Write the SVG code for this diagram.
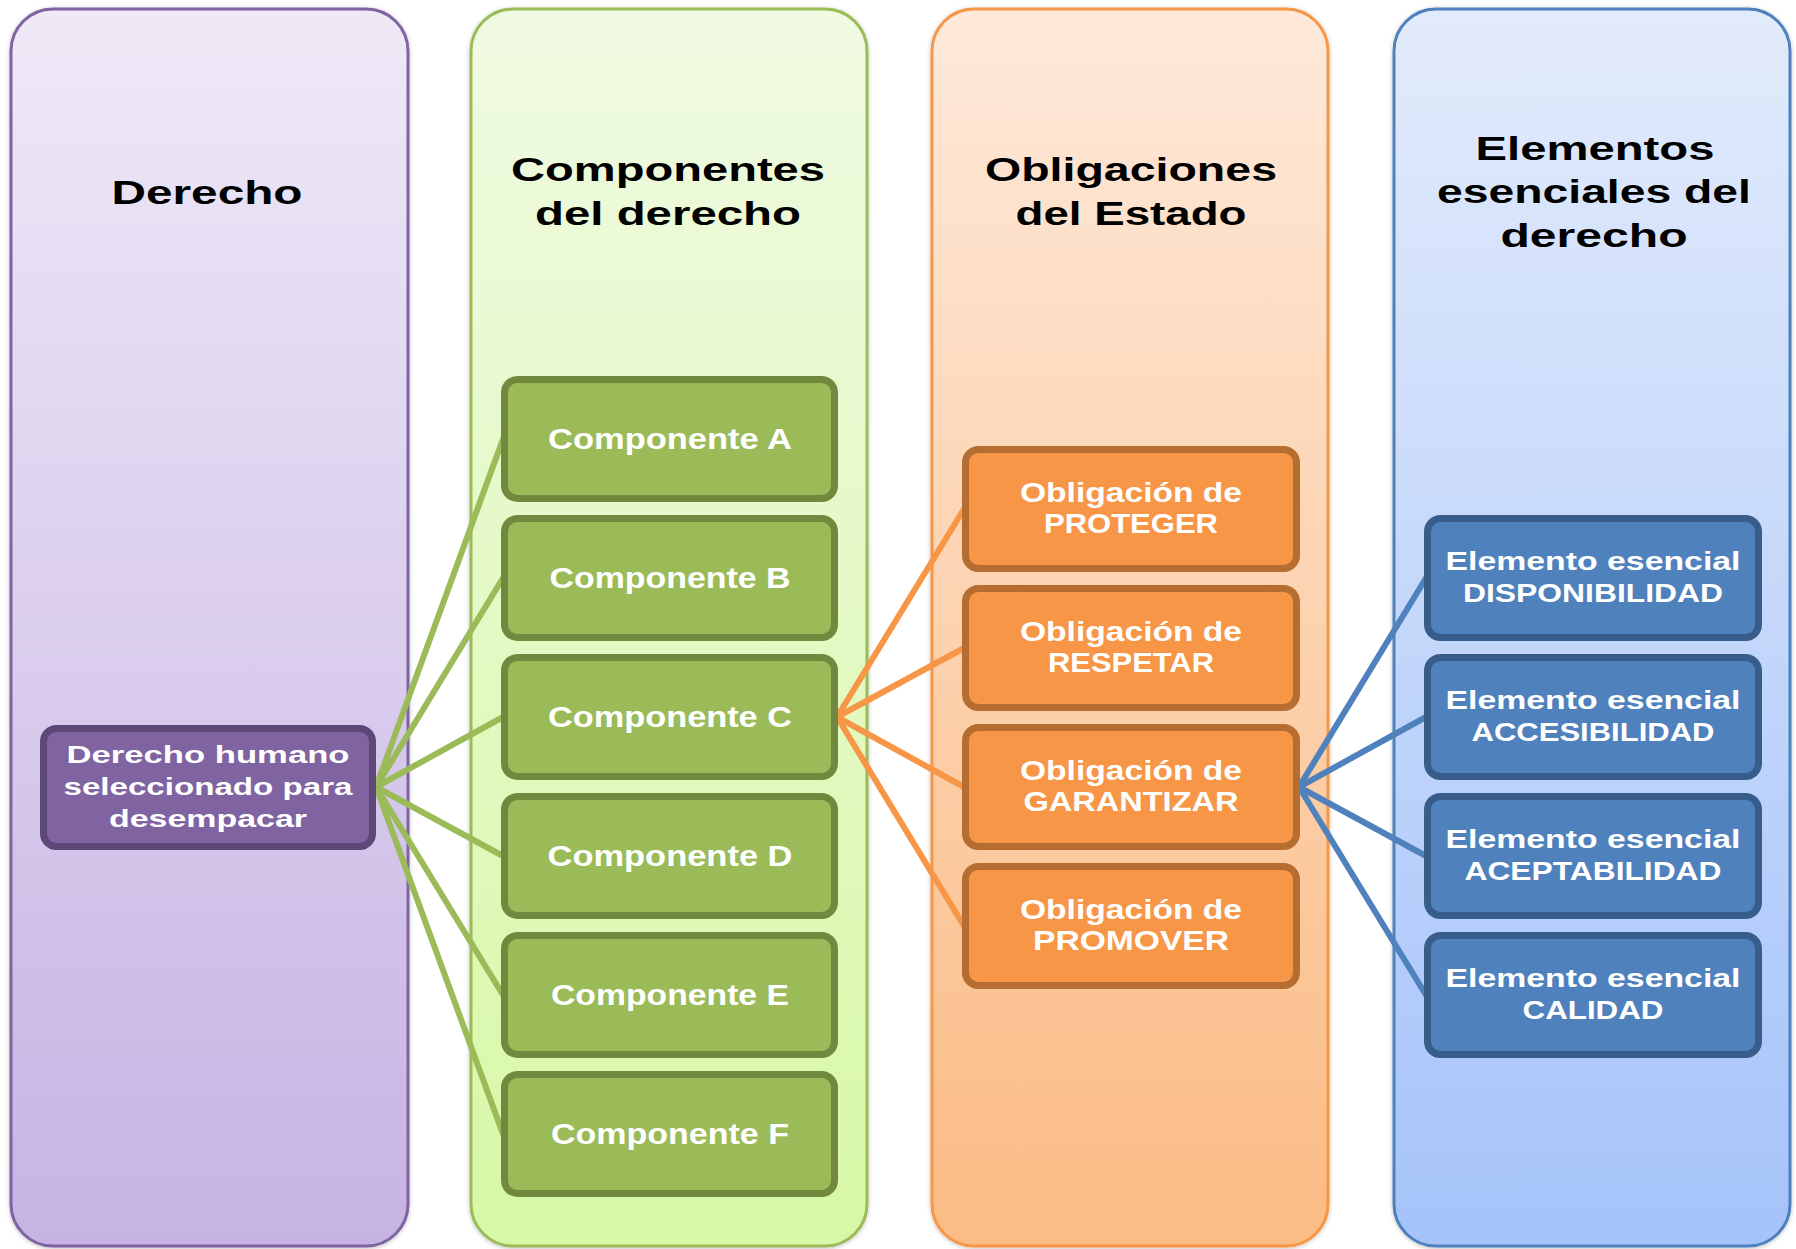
<svg xmlns="http://www.w3.org/2000/svg" width="1796" height="1249" viewBox="0 0 1796 1249">
<defs>
<linearGradient id="gP" x1="0" y1="0" x2="0" y2="1"><stop offset="0" stop-color="#EFE9F7"/><stop offset="1" stop-color="#C6B3E3"/></linearGradient>
<linearGradient id="gG" x1="0" y1="0" x2="0" y2="1"><stop offset="0" stop-color="#F0FAE2"/><stop offset="1" stop-color="#D7F8A6"/></linearGradient>
<linearGradient id="gO" x1="0" y1="0" x2="0" y2="1"><stop offset="0" stop-color="#FEE9DA"/><stop offset="1" stop-color="#FBBB84"/></linearGradient>
<linearGradient id="gB" x1="0" y1="0" x2="0" y2="1"><stop offset="0" stop-color="#E2EBFB"/><stop offset="1" stop-color="#A5C3FA"/></linearGradient>
<filter id="sh" x="-5%" y="-5%" width="110%" height="110%"><feDropShadow dx="0" dy="1" stdDeviation="2" flood-color="#000" flood-opacity="0.25"/></filter>
</defs>
<style>
.col{stroke-width:3;filter:url(#sh)}
.hd{font-family:"Liberation Sans",Arial,sans-serif;font-weight:bold;font-size:33px;fill:#000;text-anchor:middle}
.nt{font-family:"Liberation Sans",Arial,sans-serif;font-weight:bold;fill:#fff;text-anchor:middle}
.box{stroke-width:7}
.gbox{fill:#9BBB59;stroke:#71893F}
.obox{fill:#F79646;stroke:#B66D31}
.bbox{fill:#4F81BD;stroke:#385D8A}
.pbox{fill:#8064A2;stroke:#5C4776}
.ln{stroke-width:6;fill:none;stroke-linecap:round}
</style>
<rect width="1796" height="1249" fill="#fff"/>
<g id="columns">
<g id="col-derecho"><rect class="col" x="11" y="9" width="397" height="1237" rx="42" fill="url(#gP)" stroke="#8064A2"/>
<text class="hd" x="207" y="204" textLength="191" lengthAdjust="spacingAndGlyphs">Derecho</text></g>
<g id="col-componentes"><rect class="col" x="471" y="9" width="396" height="1237" rx="42" fill="url(#gG)" stroke="#9BBB59"/>
<text class="hd" x="668" y="181" textLength="314" lengthAdjust="spacingAndGlyphs">Componentes</text>
<text class="hd" x="668" y="225" textLength="266" lengthAdjust="spacingAndGlyphs">del derecho</text></g>
<g id="col-obligaciones"><rect class="col" x="932" y="9" width="396" height="1237" rx="42" fill="url(#gO)" stroke="#F79646"/>
<text class="hd" x="1131" y="181" textLength="292" lengthAdjust="spacingAndGlyphs">Obligaciones</text>
<text class="hd" x="1131" y="225" textLength="231" lengthAdjust="spacingAndGlyphs">del Estado</text></g>
<g id="col-elementos"><rect class="col" x="1394" y="9" width="396" height="1237" rx="42" fill="url(#gB)" stroke="#4F81BD"/>
<text class="hd" x="1595" y="160" textLength="239" lengthAdjust="spacingAndGlyphs">Elementos</text>
<text class="hd" x="1594" y="203" textLength="314" lengthAdjust="spacingAndGlyphs">esenciales del</text>
<text class="hd" x="1594" y="247" textLength="187" lengthAdjust="spacingAndGlyphs">derecho</text></g>
</g>
<g id="connectors">
<g stroke="#9BBB59" class="ln">
<line class="ln" x1="376" y1="787" x2="503" y2="439"/>
<line class="ln" x1="376" y1="787" x2="503" y2="578"/>
<line class="ln" x1="376" y1="787" x2="503" y2="717"/>
<line class="ln" x1="376" y1="787" x2="503" y2="856"/>
<line class="ln" x1="376" y1="787" x2="503" y2="995"/>
<line class="ln" x1="376" y1="787" x2="503" y2="1134"/>
</g>
<g stroke="#F79646">
<line class="ln" x1="837" y1="717" x2="964" y2="509"/>
<line class="ln" x1="837" y1="717" x2="964" y2="648"/>
<line class="ln" x1="837" y1="717" x2="964" y2="787"/>
<line class="ln" x1="837" y1="717" x2="964" y2="926"/>
</g>
<g stroke="#4F81BD">
<line class="ln" x1="1299" y1="787" x2="1426" y2="578"/>
<line class="ln" x1="1299" y1="787" x2="1426" y2="717"/>
<line class="ln" x1="1299" y1="787" x2="1426" y2="856"/>
<line class="ln" x1="1299" y1="787" x2="1426" y2="995"/>
</g>
</g>
<g id="n-derecho-humano"><rect class="box pbox" x="43.5" y="728.5" width="329" height="118" rx="13"/>
<text class="nt" font-size="24" x="208" y="763" textLength="283" lengthAdjust="spacingAndGlyphs">Derecho humano</text>
<text class="nt" font-size="24" x="208" y="795" textLength="289" lengthAdjust="spacingAndGlyphs">seleccionado para</text>
<text class="nt" font-size="24" x="208" y="827" textLength="198" lengthAdjust="spacingAndGlyphs">desempacar</text></g>
<g id="n-comp-a"><rect class="box gbox" x="504.5" y="379.5" width="330" height="119" rx="13"/><text class="nt" font-size="29" x="670" y="449" textLength="244" lengthAdjust="spacingAndGlyphs">Componente A</text></g>
<g id="n-comp-b"><rect class="box gbox" x="504.5" y="518.5" width="330" height="119" rx="13"/><text class="nt" font-size="29" x="670" y="588" textLength="241" lengthAdjust="spacingAndGlyphs">Componente B</text></g>
<g id="n-comp-c"><rect class="box gbox" x="504.5" y="657.5" width="330" height="119" rx="13"/><text class="nt" font-size="29" x="670" y="727" textLength="244" lengthAdjust="spacingAndGlyphs">Componente C</text></g>
<g id="n-comp-d"><rect class="box gbox" x="504.5" y="796.5" width="330" height="119" rx="13"/><text class="nt" font-size="29" x="670" y="866" textLength="245" lengthAdjust="spacingAndGlyphs">Componente D</text></g>
<g id="n-comp-e"><rect class="box gbox" x="504.5" y="935.5" width="330" height="119" rx="13"/><text class="nt" font-size="29" x="670" y="1005" textLength="238" lengthAdjust="spacingAndGlyphs">Componente E</text></g>
<g id="n-comp-f"><rect class="box gbox" x="504.5" y="1074.5" width="330" height="119" rx="13"/><text class="nt" font-size="29" x="670" y="1144" textLength="238" lengthAdjust="spacingAndGlyphs">Componente F</text></g>
<g id="n-proteger"><rect class="box obox" x="965.5" y="449.5" width="331" height="119" rx="13"/>
<text class="nt" font-size="28" x="1131" y="502" textLength="222" lengthAdjust="spacingAndGlyphs">Obligación de</text>
<text class="nt" font-size="28" x="1131" y="533" textLength="174" lengthAdjust="spacingAndGlyphs">PROTEGER</text></g>
<g id="n-respetar"><rect class="box obox" x="965.5" y="588.5" width="331" height="119" rx="13"/>
<text class="nt" font-size="28" x="1131" y="641" textLength="222" lengthAdjust="spacingAndGlyphs">Obligación de</text>
<text class="nt" font-size="28" x="1131" y="672" textLength="166" lengthAdjust="spacingAndGlyphs">RESPETAR</text></g>
<g id="n-garantizar"><rect class="box obox" x="965.5" y="727.5" width="331" height="119" rx="13"/>
<text class="nt" font-size="28" x="1131" y="780" textLength="222" lengthAdjust="spacingAndGlyphs">Obligación de</text>
<text class="nt" font-size="28" x="1131" y="811" textLength="215" lengthAdjust="spacingAndGlyphs">GARANTIZAR</text></g>
<g id="n-promover"><rect class="box obox" x="965.5" y="866.5" width="331" height="119" rx="13"/>
<text class="nt" font-size="28" x="1131" y="919" textLength="222" lengthAdjust="spacingAndGlyphs">Obligación de</text>
<text class="nt" font-size="28" x="1131" y="950" textLength="196" lengthAdjust="spacingAndGlyphs">PROMOVER</text></g>
<g id="n-disponibilidad"><rect class="box bbox" x="1427.5" y="518.5" width="331" height="119" rx="13"/>
<text class="nt" font-size="26" x="1593" y="570" textLength="295" lengthAdjust="spacingAndGlyphs">Elemento esencial</text>
<text class="nt" font-size="26" x="1593" y="602" textLength="260" lengthAdjust="spacingAndGlyphs">DISPONIBILIDAD</text></g>
<g id="n-accesibilidad"><rect class="box bbox" x="1427.5" y="657.5" width="331" height="119" rx="13"/>
<text class="nt" font-size="26" x="1593" y="709" textLength="295" lengthAdjust="spacingAndGlyphs">Elemento esencial</text>
<text class="nt" font-size="26" x="1593" y="741" textLength="243" lengthAdjust="spacingAndGlyphs">ACCESIBILIDAD</text></g>
<g id="n-aceptabilidad"><rect class="box bbox" x="1427.5" y="796.5" width="331" height="119" rx="13"/>
<text class="nt" font-size="26" x="1593" y="848" textLength="295" lengthAdjust="spacingAndGlyphs">Elemento esencial</text>
<text class="nt" font-size="26" x="1593" y="880" textLength="257" lengthAdjust="spacingAndGlyphs">ACEPTABILIDAD</text></g>
<g id="n-calidad"><rect class="box bbox" x="1427.5" y="935.5" width="331" height="119" rx="13"/>
<text class="nt" font-size="26" x="1593" y="987" textLength="295" lengthAdjust="spacingAndGlyphs">Elemento esencial</text>
<text class="nt" font-size="26" x="1593" y="1019" textLength="141" lengthAdjust="spacingAndGlyphs">CALIDAD</text></g>
</svg>
